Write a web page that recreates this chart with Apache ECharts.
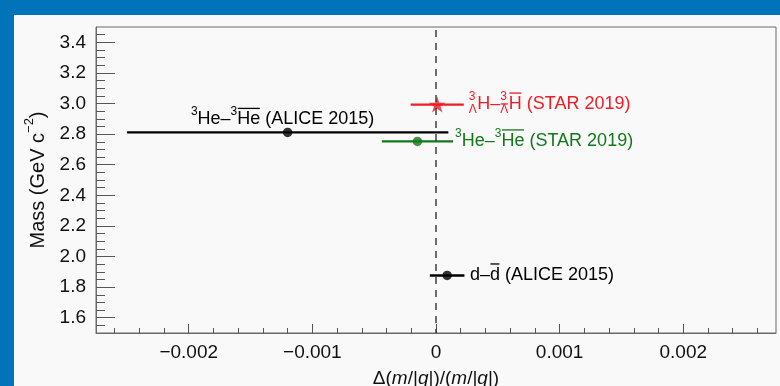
<!DOCTYPE html>
<html><head><meta charset="utf-8">
<script src="https://cdn.jsdelivr.net/npm/echarts@6/dist/echarts.min.js"></script>
<style>
html,body{margin:0;padding:0;background:#0073b9;width:780px;height:386px;overflow:hidden}
#panel{position:absolute;left:14px;top:15px;width:766px;height:371px;background:#f9f9f9}
#chart{position:absolute;left:0;top:0;width:780px;height:386px}
</style></head><body><div id="panel"></div><div id="chart"></div>
<script>
// ---- data ----
const measurements = ['3He ALICE 2015', 'Hypertriton STAR 2019', '3He STAR 2019', 'd ALICE 2015'];
const deltas = [-0.0012, 0.00001, -0.00015, 0.00009];
const deltaErrors = [0.0013, 0.000215, 0.000288, 0.00014];
const masses = [2.811, 2.993, 2.752, 1.876];
const pointColors = ['#000000', '#ee1c25', '#12781a', '#000000'];
const pointMarkers = ['circle', 'star', 'circle', 'circle'];
const xTickValues = [-0.002, -0.001, 0, 0.001, 0.002];
const xTickLabels = ['\u22120.002', '\u22120.001', '0', '0.001', '0.002'];
const yTickValues = [1.6, 1.8, 2.0, 2.2, 2.4, 2.6, 2.8, 3.0, 3.2, 3.4];
const yTickLabels = ['1.6', '1.8', '2.0', '2.2', '2.4', '2.6', '2.8', '3.0', '3.2', '3.4'];
const xRange = [-0.00275, 0.00275];
const yRange = [1.5, 3.5];
// label texts (runs: sup = superscript, ol = overline, stack = pre-super/subscript)
const labelRuns = [
  [{t:'3', sup:true}, {t:'He\u2013'}, {t:'3', sup:true}, {t:'He', ol:true}, {t:' (ALICE 2015)'}],
  [{stack:['3','\u039b']}, {t:'H\u2013'}, {stack:['3','\u039b'], barBot:true}, {t:'H', ol:true}, {t:' (STAR 2019)'}],
  [{t:'3', sup:true}, {t:'He\u2013'}, {t:'3', sup:true}, {t:'He', ol:true}, {t:' (STAR 2019)'}],
  [{t:'d\u2013'}, {t:'d', ol:true}, {t:' (ALICE 2015)'}]
];
const xTitle = '{t|\u0394(}{i|m}{t|/|}{i|q}{t||)/(}{i|m}{t|/|}{i|q}{t||)}';
const yTitle = '{t|Mass (GeV c}{sup|\u22122}{t|)}';

// ---- layout/style ----
const FF = '"Liberation Sans", Arial, Helvetica, sans-serif';
const S = 18, SS = 12;
const labelPlacement = [
  {mode:'above', dx:-5, dy:-7},
  {mode:'right', gap:5, dy:5.5},
  {mode:'right', gap:2, dy:5.5},
  {mode:'right', gap:5.5, dy:5.5}
];
const mctx = document.createElement('canvas').getContext('2d');
function fnt(size){ return size + 'px ' + FF; }
function measure(t, size){ mctx.font = fnt(size); return mctx.measureText(t).width; }
function txt(t, x, base, size, color){
  const y = base - 0.3465 * size;
  return {type:'text', style:{text:t, x:x, y:y, font:fnt(size), fill:color,
    align:'left', verticalAlign:'middle', textAlign:'left', textVerticalAlign:'middle'}};
}
function ln(x1, y1, x2, y2, color){
  return {type:'line', shape:{x1:x1, y1:y1, x2:x2, y2:y2}, style:{stroke:color, lineWidth:1.3}};
}
function layoutRuns(runs, x0, base, color){
  const ch = []; let x = x0;
  runs.forEach(r => {
    if (r.stack) {
      const w1 = measure(r.stack[0], SS), w2 = measure(r.stack[1], SS);
      ch.push(txt(r.stack[0], x, base - 9.5, SS, color));
      ch.push(txt(r.stack[1], x, base + 4, SS, color));
      if (r.barBot) ch.push(ln(x + 0.5, base + 4 - SS * 0.72 - 1.5, x + w2 - 0.5, base + 4 - SS * 0.72 - 1.5, color));
      x += Math.max(w1, w2) + 0.5;
    } else {
      const size = r.sup ? SS : S;
      const b = r.sup ? base - 9.5 : base;
      const w = measure(r.t, size);
      ch.push(txt(r.t, x, b, size, color));
      if (r.ol) ch.push(ln(x + 0.5, base - 17, x + w - 0.5, base - 17, color));
      x += w;
    }
  });
  return {children: ch, width: x - x0};
}

const starPath = (function(){
  let p = [];
  for (let k = 0; k < 10; k++) {
    const r = k % 2 === 0 ? 1 : 0.382;
    const a = -Math.PI / 2 + k * Math.PI / 5;
    p.push((k === 0 ? 'M' : 'L') + (r * Math.cos(a)).toFixed(4) + ',' + (r * Math.sin(a)).toFixed(4));
  }
  return 'path://' + p.join(' ') + ' Z';
})();

const xMinor = []; for (let k = -13; k <= 13; k++) xMinor.push(k * 0.0002);
const yMinor = []; for (let k = 31; k <= 69; k++) yMinor.push(k * 0.05);

const rows = deltas.map((d, i) => [d, masses[i], deltaErrors[i], i]);

function findLabel(v, vals, labs){
  for (let i = 0; i < vals.length; i++) if (Math.abs(v - vals[i]) < 1e-9) return labs[i];
  return '';
}

const chart = echarts.init(document.getElementById('chart'), null, {renderer:'canvas'});
chart.setOption({
  backgroundColor: 'transparent',
  animation: false,
  grid: {left:96, top:27, width:680, height:306, show:true, borderColor:'#6a6a6a', borderWidth:1,
    backgroundColor:'transparent', containLabel:false, outerBoundsMode:'none'},
  xAxis: [{
    type:'value', min:xRange[0], max:xRange[1], position:'bottom',
    axisLine:{show:true, onZero:false, lineStyle:{color:'#6a6a6a', width:1}},
    axisTick:{show:true, inside:true, length:9, customValues:xTickValues, lineStyle:{color:'#555'}},
    axisLabel:{show:true, customValues:xTickValues, formatter:(v) => findLabel(v, xTickValues, xTickLabels),
      fontSize:19, fontFamily:FF, color:'#111', margin:10},
    splitLine:{show:false},
    name:xTitle, nameLocation:'middle', nameGap:36,
    nameTextStyle:{rich:{t:{fontSize:19, fontFamily:FF, color:'#111'}, i:{fontSize:19, fontFamily:FF, fontStyle:'italic', color:'#111'}}}
  }, {
    type:'value', min:xRange[0], max:xRange[1], position:'bottom',
    axisLine:{show:false, onZero:false},
    axisTick:{show:true, inside:true, length:5, customValues:xMinor, lineStyle:{color:'#555'}},
    axisLabel:{show:false}, splitLine:{show:false}
  }],
  yAxis: [{
    type:'value', min:yRange[0], max:yRange[1], position:'left',
    axisLine:{show:true, onZero:false, lineStyle:{color:'#6a6a6a', width:1}},
    axisTick:{show:true, inside:true, length:19, customValues:yTickValues, lineStyle:{color:'#555'}},
    axisLabel:{show:true, customValues:yTickValues, formatter:(v) => findLabel(v, yTickValues, yTickLabels),
      fontSize:19, fontFamily:FF, color:'#111', margin:10},
    splitLine:{show:false},
    name:yTitle, nameLocation:'middle', nameGap:43, nameRotate:90,
    nameTextStyle:{rich:{t:{fontSize:20, fontFamily:FF, color:'#111', lineHeight:30},
      sup:{fontSize:13, fontFamily:FF, color:'#111', lineHeight:14, verticalAlign:'top'}}}
  }, {
    type:'value', min:yRange[0], max:yRange[1], position:'left', offset:0,
    axisLine:{show:false, onZero:false},
    axisTick:{show:true, inside:true, length:9, customValues:yMinor, lineStyle:{color:'#555'}},
    axisLabel:{show:false}, splitLine:{show:false}
  }],
  series: [
    {
      type:'custom', name:'error bars', xAxisIndex:0, yAxisIndex:0, z:2,
      data: rows,
      renderItem: function(params, api){
        const x = api.value(0), y = api.value(1), e = api.value(2), i = api.value(3);
        const a = api.coord([x - e, y]), b = api.coord([x + e, y]);
        return {type:'line', shape:{x1:a[0], y1:a[1], x2:b[0], y2:b[1]},
          style:{stroke:pointColors[i], lineWidth:(i === 0 || i === 3) ? 2.4 : 2.2}};
      }
    },
    {
      type:'scatter', name:'points', xAxisIndex:0, yAxisIndex:0, z:3,
      data: deltas.map((d, i) => ({
        value:[d, masses[i]],
        symbol: pointMarkers[i] === 'star' ? starPath : 'circle',
        symbolSize: pointMarkers[i] === 'star' ? [17, 16] : 9.5,
        itemStyle:{color:pointColors[i]}
      }))
    },
    {
      type:'custom', name:'zero line', xAxisIndex:0, yAxisIndex:0, z:5,
      data:[[0, yRange[0], yRange[1]]],
      renderItem: function(params, api){
        const a = api.coord([api.value(0), api.value(2)]), b = api.coord([api.value(0), api.value(1)]);
        return {type:'line', shape:{x1:a[0], y1:a[1] + 3, x2:b[0], y2:b[1]},
          style:{stroke:'#333', lineWidth:1.4, lineDash:[7, 6]}};
      }
    },
    {
      type:'custom', name:'labels', xAxisIndex:0, yAxisIndex:0, z:4,
      data: rows,
      renderItem: function(params, api){
        const x = api.value(0), y = api.value(1), e = api.value(2), i = api.value(3);
        const pl = labelPlacement[i];
        const c = api.coord([x, y]);
        let base, x0;
        if (pl.mode === 'above') {
          const w = layoutRuns(labelRuns[i], 0, 0, pointColors[i]).width;
          x0 = c[0] + pl.dx - w / 2; base = c[1] + pl.dy;
        } else {
          const r = api.coord([x + e, y]);
          x0 = r[0] + pl.gap; base = c[1] + pl.dy;
        }
        return {type:'group', children: layoutRuns(labelRuns[i], x0, base, pointColors[i]).children};
      }
    }
  ]
});
</script></body></html>
